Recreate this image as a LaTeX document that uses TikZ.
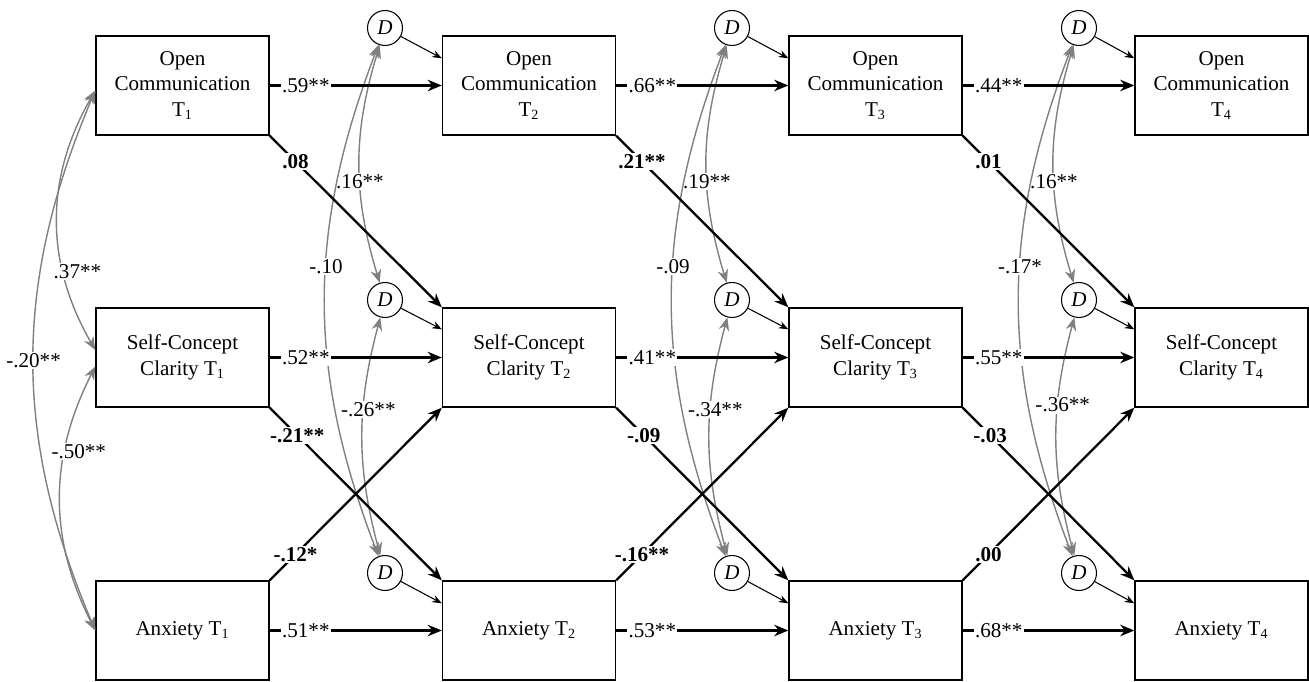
\documentclass[tikz,border=0pt]{standalone}
\usepackage{fontspec}
\setmainfont{Liberation Serif}
\usetikzlibrary{arrows.meta}

\tikzset{
  var/.style={draw,line width=0.8pt,minimum width=3.46cm,minimum height=1.98cm,align=center,inner sep=1pt,font=\fontsize{12}{14.6}\selectfont},
  dist/.style={draw,circle,line width=0.6pt,minimum size=0.7cm,inner sep=0pt,font=\fontsize{12}{14}\selectfont\itshape},
  effect/.style={line width=1.3pt,-{Stealth[length=8pt,width=6.5pt]}},
  resid/.style={line width=0.6pt,-{Stealth[length=5.5pt,width=4.2pt]}},
  covar/.style={gray,line width=0.8pt,{Stealth[length=7.5pt,width=6pt]}-{Stealth[length=7.5pt,width=6pt]}},
  coef/.style={fill=white,text=black,inner sep=0.8pt,font=\fontsize{12}{14}\selectfont},
  bcoef/.style={coef,font=\fontsize{12}{14}\selectfont\bfseries},
}

\begin{document}
\begin{tikzpicture}[x=0.02cm,y=-0.02cm]
  \useasboundingbox (0,0) rectangle (1309,682);
  % observed variables
  \node[var] (oc1) at (182.5,85.5) {Open\\Communication\\T\textsubscript{1}};
  \node[var] (oc2) at (529,85.5) {Open\\Communication\\T\textsubscript{2}};
  \node[var] (oc3) at (875.5,85.5) {Open\\Communication\\T\textsubscript{3}};
  \node[var] (oc4) at (1221.5,85.5) {Open\\Communication\\T\textsubscript{4}};
  \node[var] (scc1) at (182.5,357.5) {Self-Concept\\Clarity T\textsubscript{1}};
  \node[var] (scc2) at (529,357.5) {Self-Concept\\Clarity T\textsubscript{2}};
  \node[var] (scc3) at (875.5,357.5) {Self-Concept\\Clarity T\textsubscript{3}};
  \node[var] (scc4) at (1221.5,357.5) {Self-Concept\\Clarity T\textsubscript{4}};
  \node[var] (anx1) at (182.5,630.5) {Anxiety T\textsubscript{1}};
  \node[var] (anx2) at (529,630.5) {Anxiety T\textsubscript{2}};
  \node[var] (anx3) at (875.5,630.5) {Anxiety T\textsubscript{3}};
  \node[var] (anx4) at (1221.5,630.5) {Anxiety T\textsubscript{4}};
  % disturbances
  \node[dist] (doc2) at (385,28) {D};
  \node[dist] (doc3) at (732,28) {D};
  \node[dist] (doc4) at (1079,28) {D};
  \node[dist] (dscc2) at (385,300) {D};
  \node[dist] (dscc3) at (732,300) {D};
  \node[dist] (dscc4) at (1079,300) {D};
  \node[dist] (danx2) at (385,573) {D};
  \node[dist] (danx3) at (732,573) {D};
  \node[dist] (danx4) at (1079,573) {D};

  % covariances at T1
  \draw[covar] ([yshift=-0.1cm]oc1.west) to[bend right=30] node[coef,pos=0.7,xshift=0.28cm]{.37**} ([yshift=0.15cm]scc1.west);
  \draw[covar] ([yshift=-0.18cm]scc1.west) to[bend right=27] node[coef,pos=0.32,xshift=0.28cm]{-.50**} (anx1.west);
  \draw[covar] ([yshift=-0.1cm]oc1.west) to[bend right=23] node[coef,pos=0.5]{-.20**} (anx1.west);
  % residual covariances
  \draw[covar] (doc2) to[bend right=17] node[coef,pos=0.58]{.16**} (dscc2);
  \draw[covar] (dscc2) to[bend right=15] node[coef,pos=0.38,xshift=0.1cm]{-.26**} (danx2);
  \draw[covar] (doc2) to[bend right=21] node[coef,pos=0.43]{-.10} (danx2);
  \draw[covar] (doc3) to[bend right=17] node[coef,pos=0.58]{.19**} (dscc3);
  \draw[covar] (dscc3) to[bend right=15] node[coef,pos=0.38,xshift=0.1cm]{-.34**} (danx3);
  \draw[covar] (doc3) to[bend right=21] node[coef,pos=0.43]{-.09} (danx3);
  \draw[covar] (doc4) to[bend right=17] node[coef,pos=0.58]{.16**} (dscc4);
  \draw[covar] (dscc4) to[bend right=15] node[coef,pos=0.36,xshift=0.1cm]{-.36**} (danx4);
  \draw[covar] (doc4) to[bend right=21] node[coef,pos=0.43]{-.17*} (danx4);

  % disturbance paths
  \draw[resid] (doc2) -- ([yshift=-0.46cm]oc2.north west);
  \draw[resid] (doc3) -- ([yshift=-0.46cm]oc3.north west);
  \draw[resid] (doc4) -- ([yshift=-0.46cm]oc4.north west);
  \draw[resid] (dscc2) -- ([yshift=-0.44cm]scc2.north west);
  \draw[resid] (dscc3) -- ([yshift=-0.44cm]scc3.north west);
  \draw[resid] (dscc4) -- ([yshift=-0.44cm]scc4.north west);
  \draw[resid] (danx2) -- ([yshift=-0.46cm]anx2.north west);
  \draw[resid] (danx3) -- ([yshift=-0.46cm]anx3.north west);
  \draw[resid] (danx4) -- ([yshift=-0.46cm]anx4.north west);

  % autoregressive paths
  \draw[effect] (oc1) -- node[coef,pos=0.21]{.59**} (oc2);
  \draw[effect] (oc2) -- node[coef,pos=0.21]{.66**} (oc3);
  \draw[effect] (oc3) -- node[coef,pos=0.21]{.44**} (oc4);
  \draw[effect] (scc1) -- node[coef,pos=0.21]{.52**} (scc2);
  \draw[effect] (scc2) -- node[coef,pos=0.21]{.41**} (scc3);
  \draw[effect] (scc3) -- node[coef,pos=0.21]{.55**} (scc4);
  \draw[effect] (anx1) -- node[coef,pos=0.21]{.51**} (anx2);
  \draw[effect] (anx2) -- node[coef,pos=0.21]{.53**} (anx3);
  \draw[effect] (anx3) -- node[coef,pos=0.21]{.68**} (anx4);

  % cross-lagged paths
  \draw[effect] (oc1.south east) -- node[bcoef,pos=0.15]{.08} (scc2.north west);
  \draw[effect] (oc2.south east) -- node[bcoef,pos=0.15]{.21**} (scc3.north west);
  \draw[effect] (oc3.south east) -- node[bcoef,pos=0.15]{.01} (scc4.north west);
  \draw[effect] (scc1.south east) -- node[bcoef,pos=0.16]{-.21**} (anx2.north west);
  \draw[effect] (scc2.south east) -- node[bcoef,pos=0.16]{-.09} (anx3.north west);
  \draw[effect] (scc3.south east) -- node[bcoef,pos=0.16]{-.03} (anx4.north west);
  \draw[effect] (anx1.north east) -- node[bcoef,pos=0.15]{-.12*} (scc2.south west);
  \draw[effect] (anx2.north east) -- node[bcoef,pos=0.15]{-.16**} (scc3.south west);
  \draw[effect] (anx3.north east) -- node[bcoef,pos=0.15]{.00} (scc4.south west);
\end{tikzpicture}
\end{document}
